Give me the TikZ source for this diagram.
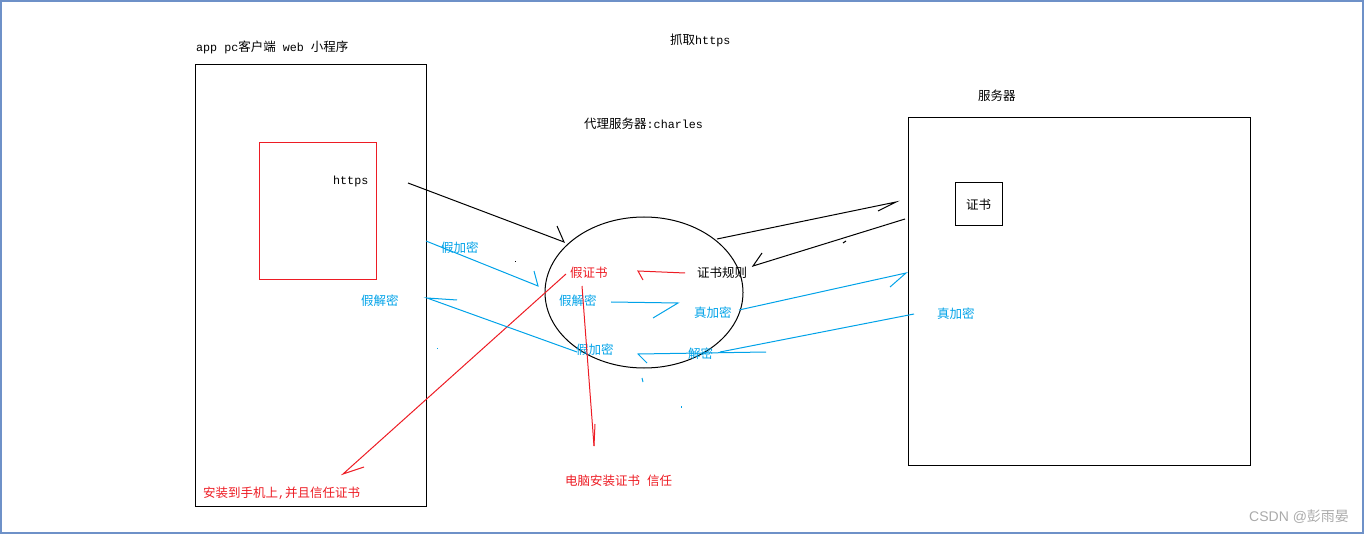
\documentclass[tikz,border=0pt]{standalone}
\usepackage{fontspec}
\setmainfont{Noto Sans CJK SC}
\newfontfamily\latmono{Liberation Mono}
\newfontfamily\latsans{Liberation Sans}
\newcommand{\lat}[1]{{\latmono\fontsize{11.7}{14}\selectfont #1}}
\definecolor{pblue}{RGB}{0,162,232}
\definecolor{pred}{RGB}{237,28,36}
\definecolor{frameblue}{RGB}{110,145,200}
\definecolor{wm}{RGB}{170,170,170}
\begin{document}
\begin{tikzpicture}[x=1pt,y=-1pt,
  lbl/.style={inner sep=0pt, anchor=west, font=\fontsize{12.5}{14}\selectfont},
  bluetxt/.style={lbl, text=pblue},
  redtxt/.style={lbl, text=pred},
  bl/.style={draw=black, line width=1pt},
  bluel/.style={draw=pblue, line width=1pt},
  redl/.style={draw=pred, line width=1pt},
  boxstyle/.style={draw=black, line width=1pt}]
\useasboundingbox (0,0) rectangle (1364,534);
\draw[draw=frameblue, line width=2pt] (1,1) rectangle (1363,533);

% boxes
\draw[boxstyle] (195,65) rectangle (426,506);
\draw[draw=pred, line width=1pt] (259,143) rectangle (376,280);
\draw[boxstyle] (908,118) rectangle (1250,465);
\node[draw=black, line width=1pt, minimum width=47pt, minimum height=43pt, inner sep=0pt,
      font=\fontsize{12.5}{14}\selectfont] (cert) at (978.5,204.5) {证书};
\draw[bl] (644,292.5) ellipse [x radius=99, y radius=75.5];

% labels
\node[lbl] (client) at (196,47) {\lat{app pc}客户端\lat{ web }小程序};
\node[lbl] (title) at (670,40) {抓取\lat{https}};
\node[lbl] (proxy) at (584,124) {代理服务器\lat{:charles}};
\node[lbl] (server) at (978,96) {服务器};
\node[lbl] (https) at (333,181) {\lat{https}};
\node[redtxt] (fakecert) at (570,273) {假证书};
\node[lbl] (rule) at (697,273) {证书规则};
\node[bluetxt] (fdec1) at (559,301) {假解密};
\node[bluetxt] (tenc1) at (694,313) {真加密};
\node[bluetxt] (fenc1) at (576,350) {假加密};
\node[bluetxt] (dec1) at (688,354) {解密};
\node[bluetxt] (fenc0) at (441,248) {假加密};
\node[bluetxt] (fdec0) at (361,301) {假解密};
\node[bluetxt] (tenc2) at (937,314) {真加密};
\node[redtxt] (pc) at (565,481) {电脑安装证书\lat{ }信任};
\node[redtxt] (phone) at (203,493) {安装到手机上\lat{,}并且信任证书};
\node[inner sep=0pt, anchor=west, text=wm, font=\fontsize{14}{16}\selectfont] (wmark) at (1249,517) {{\latsans CSDN @}彭雨晏};

% coordinates
\coordinate (a1s) at (408,183); \coordinate (a1e) at (564,242); \coordinate (a1b) at (557,226);
\coordinate (a2s) at (717,239); \coordinate (a2e) at (896,202); \coordinate (a2b) at (878,211);
\coordinate (a3s) at (905,219); \coordinate (a3e) at (753,266); \coordinate (a3b) at (762,253);
\coordinate (r1s) at (685,273); \coordinate (r1e) at (638,271); \coordinate (r1b) at (643,280);
\coordinate (b1s) at (426,241); \coordinate (b1e) at (538,286); \coordinate (b1b) at (534,271);
\coordinate (b2s) at (577,352); \coordinate (b2e) at (427,298); \coordinate (b2b) at (457,300);
\coordinate (b3s) at (611,302); \coordinate (b3e) at (678,303); \coordinate (b3b) at (653,318);
\coordinate (b4s) at (739,310); \coordinate (b4e) at (906,273); \coordinate (b4b) at (890,287);
\coordinate (b5s) at (914,314); \coordinate (b5e) at (720,352);
\coordinate (b6s) at (766,352); \coordinate (b6e) at (638,354); \coordinate (b6b) at (647,363);
\coordinate (r2s) at (566,274); \coordinate (r2e) at (343,474); \coordinate (r2b) at (364,467);
\coordinate (r3s) at (582,286); \coordinate (r3e) at (594,446); \coordinate (r3b) at (595,424);

% black arrows
\draw[bl] (a1s) -- (a1e) -- (a1b);
\draw[bl] (a2s) -- (a2e) -- (a2b);
\draw[bl] (a3s) -- (a3e) -- (a3b);
\draw[bl] (843,243) -- (846,241);
\draw[bl] (515,262) -- (516,262);

% red arrows
\draw[redl] (r1s) -- (r1e) -- (r1b);
\draw[redl] (r2s) -- (r2e) -- (r2b);
\draw[redl] (r3s) -- (r3e);
\draw[redl] (r3b) -- (r3e);

% blue arrows
\draw[bluel] (b1s) -- (b1e) -- (b1b);
\draw[bluel] (b2s) -- (b2e) -- (b2b);
\draw[bluel] (b3s) -- (b3e) -- (b3b);
\draw[bluel] (b4s) -- (b4e) -- (b4b);
\draw[bluel] (b5s) -- (b5e);
\draw[bluel] (b6s) -- (b6e) -- (b6b);
\draw[bluel] (437,348) -- (437,349);
\draw[bluel] (642,378) -- (643,382);
\draw[bluel] (681,406) -- (681,408);
\end{tikzpicture}
\end{document}
